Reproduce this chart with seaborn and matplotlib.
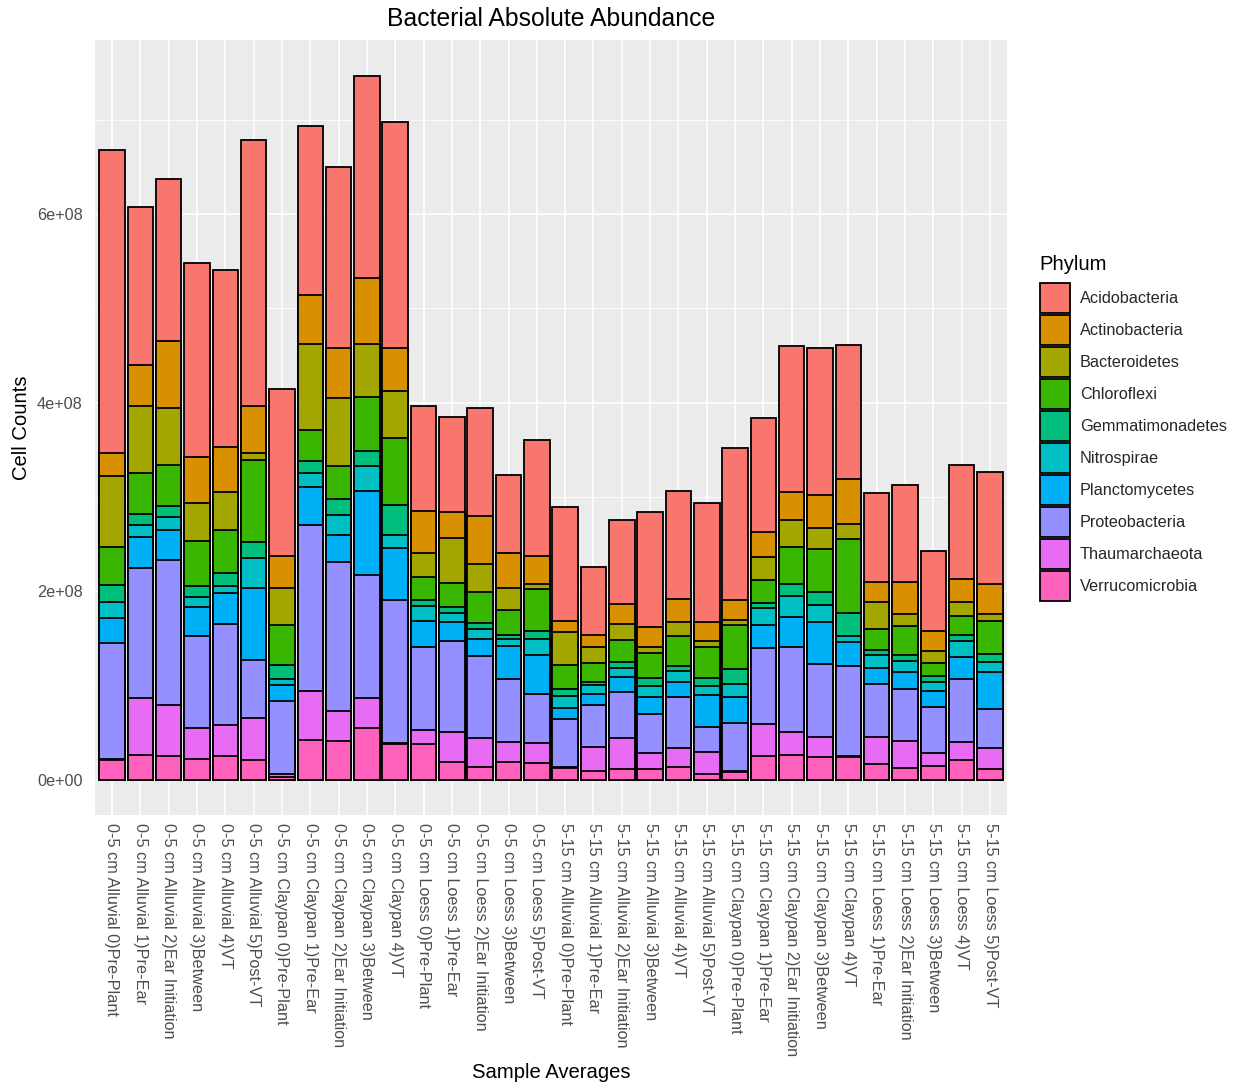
import numpy as np
import pandas as pd
import matplotlib
matplotlib.use("Agg")
import matplotlib.pyplot as plt
from matplotlib.patches import Patch
from matplotlib.ticker import FixedLocator, FuncFormatter
import seaborn as sns

# ---------------------------------------------------------------- data
samples = [
    "0-5 cm Alluvial 0)Pre-Plant", "0-5 cm Alluvial 1)Pre-Ear",
    "0-5 cm Alluvial 2)Ear Initiation", "0-5 cm Alluvial 3)Between",
    "0-5 cm Alluvial 4)VT", "0-5 cm Alluvial 5)Post-VT",
    "0-5 cm Claypan 0)Pre-Plant", "0-5 cm Claypan 1)Pre-Ear",
    "0-5 cm Claypan 2)Ear Initiation", "0-5 cm Claypan 3)Between",
    "0-5 cm Claypan 4)VT", "0-5 cm Loess 0)Pre-Plant",
    "0-5 cm Loess 1)Pre-Ear", "0-5 cm Loess 2)Ear Initiation",
    "0-5 cm Loess 3)Between", "0-5 cm Loess 5)Post-VT",
    "5-15 cm Alluvial 0)Pre-Plant", "5-15 cm Alluvial 1)Pre-Ear",
    "5-15 cm Alluvial 2)Ear Initiation", "5-15 cm Alluvial 3)Between",
    "5-15 cm Alluvial 4)VT", "5-15 cm Alluvial 5)Post-VT",
    "5-15 cm Claypan 0)Pre-Plant", "5-15 cm Claypan 1)Pre-Ear",
    "5-15 cm Claypan 2)Ear Initiation", "5-15 cm Claypan 3)Between",
    "5-15 cm Claypan 4)VT", "5-15 cm Loess 1)Pre-Ear",
    "5-15 cm Loess 2)Ear Initiation", "5-15 cm Loess 3)Between",
    "5-15 cm Loess 4)VT", "5-15 cm Loess 5)Post-VT",
]

phyla = ["Acidobacteria", "Actinobacteria", "Bacteroidetes", "Chloroflexi",
         "Gemmatimonadetes", "Nitrospirae", "Planctomycetes",
         "Proteobacteria", "Thaumarchaeota", "Verrucomicrobia"]

phylum_colors = ["#F8766D", "#D89000", "#A3A500", "#39B600", "#00BF7D",
                 "#00BFC4", "#00B0F6", "#9590FF", "#E76BF3", "#FF62BC"]

# mean cell counts per sample, in units of 1e8 cells
acidobacteria = [3.21, 1.67, 1.72, 2.06, 1.88, 2.81, 1.77, 1.79, 1.92, 2.14,
                 2.40, 1.12, 1.01, 1.14, 0.82, 1.23, 1.20, 0.72, 0.89, 1.22,
                 1.14, 1.26, 1.61, 1.21, 1.55, 1.56, 1.42, 0.94, 1.03, 0.85,
                 1.21, 1.18]
actinobacteria = [0.25, 0.43, 0.71, 0.48, 0.48, 0.50, 0.34, 0.52, 0.53, 0.70,
                  0.46, 0.44, 0.27, 0.51, 0.37, 0.29, 0.12, 0.13, 0.22, 0.21,
                  0.24, 0.21, 0.21, 0.27, 0.29, 0.35, 0.48, 0.21, 0.34, 0.21,
                  0.24, 0.32]
bacteroidetes = [0.75, 0.72, 0.60, 0.41, 0.40, 0.08, 0.40, 0.91, 0.72, 0.56,
                 0.49, 0.26, 0.48, 0.30, 0.24, 0.06, 0.35, 0.17, 0.17, 0.06,
                 0.15, 0.06, 0.06, 0.24, 0.29, 0.22, 0.15, 0.29, 0.13, 0.13,
                 0.15, 0.07]
chloroflexi = [0.40, 0.43, 0.44, 0.47, 0.46, 0.87, 0.42, 0.33, 0.35, 0.57,
               0.71, 0.24, 0.26, 0.33, 0.26, 0.44, 0.25, 0.20, 0.23, 0.27,
               0.32, 0.33, 0.46, 0.24, 0.39, 0.46, 0.79, 0.22, 0.30, 0.14,
               0.20, 0.35]
gemmatimonadetes = [0.18, 0.12, 0.11, 0.12, 0.13, 0.17, 0.15, 0.13, 0.17, 0.16,
                    0.32, 0.07, 0.06, 0.06, 0.05, 0.09, 0.08, 0.03, 0.06, 0.08,
                    0.05, 0.08, 0.16, 0.06, 0.13, 0.13, 0.24, 0.05, 0.07, 0.06,
                    0.07, 0.09]
nitrospirae = [0.17, 0.12, 0.14, 0.11, 0.08, 0.31, 0.06, 0.14, 0.21, 0.27,
               0.14, 0.15, 0.09, 0.10, 0.07, 0.16, 0.13, 0.10, 0.10, 0.12,
               0.12, 0.10, 0.14, 0.18, 0.22, 0.18, 0.07, 0.14, 0.12, 0.10,
               0.17, 0.11]
planctomycetes = [0.27, 0.33, 0.32, 0.30, 0.33, 0.77, 0.17, 0.41, 0.29, 0.89,
                  0.55, 0.28, 0.21, 0.19, 0.35, 0.42, 0.11, 0.12, 0.16, 0.18,
                  0.16, 0.34, 0.28, 0.24, 0.32, 0.45, 0.25, 0.17, 0.17, 0.17,
                  0.23, 0.39]
proteobacteria = [1.23, 1.38, 1.53, 0.98, 1.07, 0.61, 0.78, 1.76, 1.58, 1.30,
                  1.52, 0.88, 0.96, 0.87, 0.67, 0.52, 0.51, 0.44, 0.49, 0.41,
                  0.54, 0.26, 0.50, 0.81, 0.90, 0.77, 0.96, 0.56, 0.56, 0.48,
                  0.67, 0.41]
thaumarchaeota = [0.01, 0.61, 0.55, 0.33, 0.33, 0.45, 0.03, 0.52, 0.32, 0.32,
                  0.01, 0.15, 0.32, 0.30, 0.21, 0.21, 0.01, 0.25, 0.32, 0.17,
                  0.20, 0.24, 0.01, 0.34, 0.25, 0.22, 0.01, 0.29, 0.28, 0.14,
                  0.19, 0.22]
verrucomicrobia = [0.21, 0.26, 0.25, 0.22, 0.25, 0.21, 0.03, 0.42, 0.41, 0.55,
                   0.38, 0.38, 0.19, 0.14, 0.19, 0.18, 0.13, 0.10, 0.12, 0.12,
                   0.14, 0.06, 0.09, 0.25, 0.26, 0.24, 0.24, 0.17, 0.13, 0.15,
                   0.21, 0.12]

UNIT = 1e8

counts = pd.DataFrame({
    "Acidobacteria": acidobacteria,
    "Actinobacteria": actinobacteria,
    "Bacteroidetes": bacteroidetes,
    "Chloroflexi": chloroflexi,
    "Gemmatimonadetes": gemmatimonadetes,
    "Nitrospirae": nitrospirae,
    "Planctomycetes": planctomycetes,
    "Proteobacteria": proteobacteria,
    "Thaumarchaeota": thaumarchaeota,
    "Verrucomicrobia": verrucomicrobia,
}, index=samples) * UNIT

# stack from the bottom (Verrucomicrobia) up to Acidobacteria
stack_order = phyla[::-1]
cumulative = counts[stack_order].cumsum(axis=1)
palette = dict(zip(phyla, phylum_colors))

# ---------------------------------------------------------------- style
sns.set_style("darkgrid", {"axes.facecolor": "#EBEBEB",
                           "grid.color": "white"})
plt.rcParams["font.family"] = ["Liberation Sans", "DejaVu Sans"]

W, H = 1235, 1084
fig = plt.figure(figsize=(W / 100, H / 100), dpi=100)
ax = fig.add_axes([95 / W, 1 - 815 / H, 912 / W, 775 / H])

# draw cumulative totals from the top layer down so each phylum covers
# the part of the column that belongs to the layers above it
for phylum in phyla:
    sns.barplot(x=samples, y=cumulative[phylum].values, order=samples,
                color=palette[phylum], saturation=1, width=0.9,
                edgecolor="black", linewidth=1.3, errorbar=None, ax=ax)

ax.set_xlim(-0.6, len(samples) - 0.4)
ax.set_ylim(-0.371 * UNIT, 7.845 * UNIT)

ax.set_axisbelow(True)
ax.yaxis.set_major_locator(FixedLocator([0, 2e8, 4e8, 6e8]))
ax.yaxis.set_minor_locator(FixedLocator([1e8, 3e8, 5e8, 7e8]))
ax.yaxis.set_major_formatter(FuncFormatter(lambda v, _: f"{v:.0e}"))
ax.grid(True, which="major", axis="both", color="white", linewidth=1.2)
ax.grid(True, which="minor", axis="y", color="white", linewidth=0.6)

for s in ax.spines.values():
    s.set_visible(False)

ax.tick_params(axis="both", which="major", length=3, width=0.8,
               color="#333333", labelcolor="#4D4D4D", labelsize=11.7)
ax.tick_params(axis="y", which="major", pad=6)
ax.tick_params(axis="x", which="major", pad=2.5)
ax.tick_params(which="minor", length=0)

ax.set_xticks(range(len(samples)))
ax.set_xticklabels(samples, rotation=-90, ha="center", va="top")

ax.set_xlabel("")
ax.set_ylabel("")
fig.text(551 / W, 1 - 1072 / H, "Sample Averages", ha="center",
         va="center", fontsize=14.6, color="black")
fig.text(22 / W, 1 - 428 / H, "Cell Counts", ha="center", va="center",
         rotation=90, fontsize=14.6, color="black")
fig.text(551 / W, 1 - 19 / H, "Bacterial Absolute Abundance",
         ha="center", va="center", fontsize=17.8, color="black")

# legend: title as text, keys as 30px squares on a 32px pitch
fig.text(1039 / W, 1 - 264 / H, "Phylum", ha="left", va="center",
         fontsize=14.6, color="black")
handles = [Patch(facecolor=palette[p], edgecolor="black", linewidth=1.3)
           for p in phyla]
leg = fig.legend(handles, phyla, loc="upper left",
                 bbox_to_anchor=(1040 / W, 1 - 283 / H),
                 frameon=False, fontsize=11.7,
                 handlelength=1.85, handleheight=2.46,
                 labelspacing=0.123, handletextpad=0.6, borderpad=0,
                 borderaxespad=0)

fig.savefig("out.png", dpi=100, facecolor="white")
